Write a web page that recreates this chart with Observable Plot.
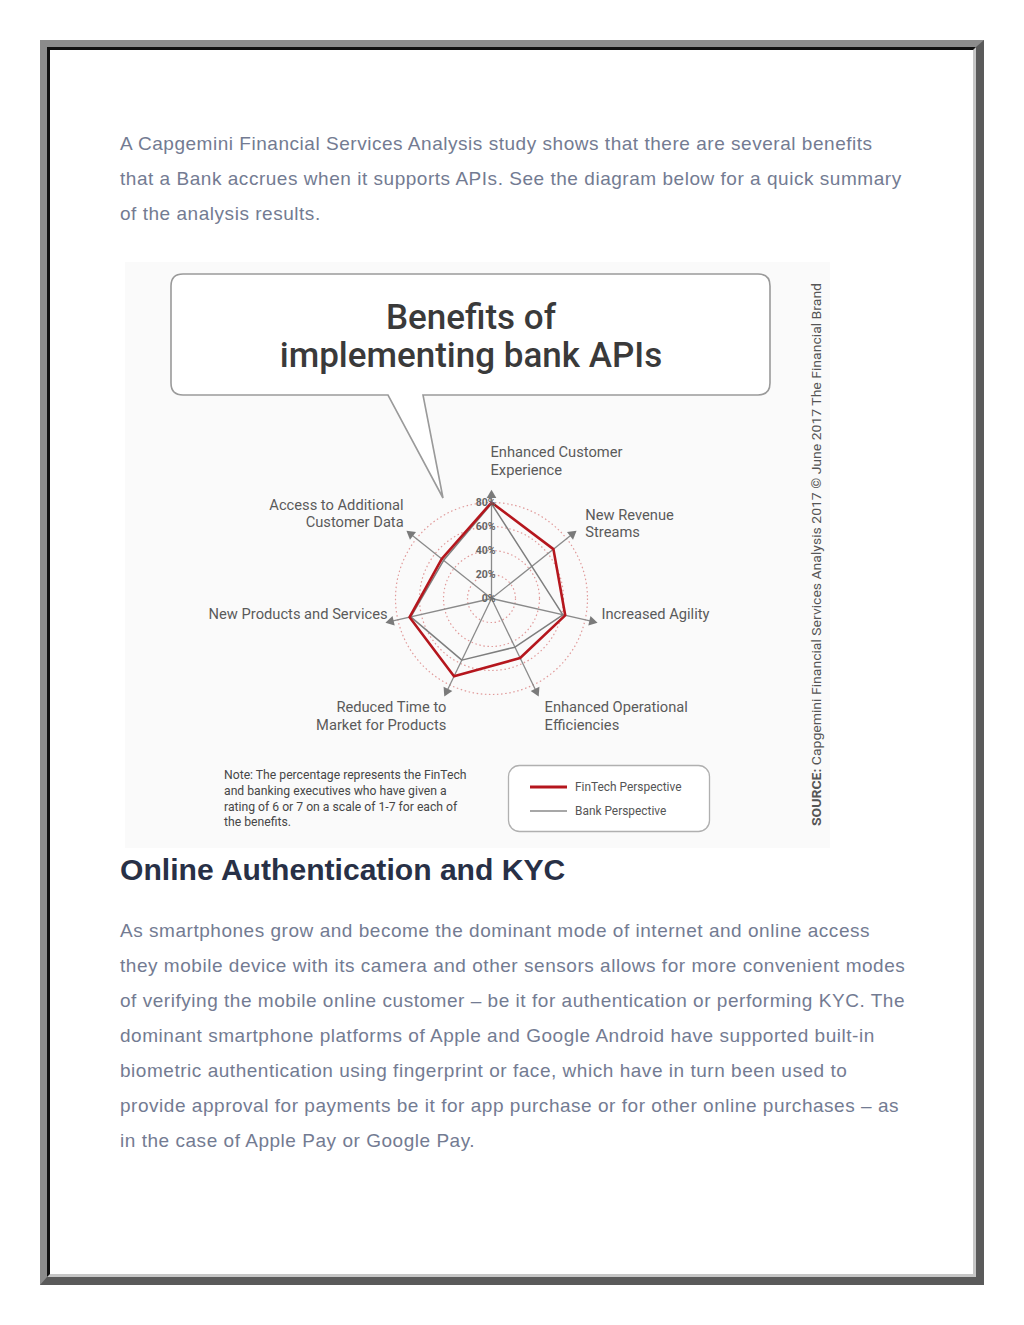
<!DOCTYPE html>
<html>
<head>
<meta charset="utf-8">
<script src="https://cdn.jsdelivr.net/npm/d3@7"></script>
<script src="https://cdn.jsdelivr.net/npm/@observablehq/plot@0.6"></script>
<style>
  html, body { margin: 0; padding: 0; background: #fff; }
  body { width: 1024px; height: 1325px; position: relative; overflow: hidden; }
  .frame { position: absolute; left: 40px; top: 40px; width: 944px; height: 1245px; box-sizing: border-box;
    border-style: solid; border-width: 7px 8px 8px 7px; border-color: #8c8c8c #5a5a5a #5a5a5a #8c8c8c; }
  .frame-inner { position: absolute; left: 0; top: 0; right: 0; bottom: 0;
    border-style: solid; border-width: 3px; border-color: #111 #c6c6c6 #c6c6c6 #111; }
  .p { position: absolute; left: 120px; font-family: "Liberation Sans", Arial, sans-serif; font-size: 19px;
    letter-spacing: 0.53px; line-height: 35px; color: #737b92; white-space: nowrap; margin: 0; }
  h2 { position: absolute; left: 120px; top: 850px; margin: 0; font-family: "Liberation Sans", Arial, sans-serif;
    font-weight: bold; font-size: 30.1px; line-height: 40px; color: #283046; white-space: nowrap; }
  .figbg { position: absolute; left: 125px; top: 262px; width: 705px; height: 586px; background: #fafafa; }
  #overlay { position: absolute; left: 0; top: 0; }
  #radar { position: absolute; left: 191px; top: 438px; }
</style>
</head>
<body>
<div class="frame"><div class="frame-inner"></div></div>
<p class="p" style="top:126px">A Capgemini Financial Services Analysis study shows that there are several benefits<br>that a Bank accrues when it supports APIs. See the diagram below for a quick summary<br>of the analysis results.</p>
<div class="figbg"></div>
<div id="radar"></div>
<svg id="overlay" width="1024" height="1325" style="pointer-events:none">
  <path d="M183,274 H758 Q770,274 770,286 V383 Q770,395 758,395 H423 L443,498 L388,395 H183 Q171,395 171,383 V286 Q171,274 183,274 Z"
        fill="#fff" stroke="#9a9a9a" stroke-width="1.6"/>
  <g font-family="Roboto, sans-serif" font-weight="500" font-size="35" fill="#3a3a3a" text-anchor="middle">
    <text x="471" y="329">Benefits of</text>
    <text x="471" y="367">implementing bank APIs</text>
  </g>
  <g font-family="Roboto, sans-serif" font-size="12.2" fill="#474747">
    <text x="224" y="779">Note: The percentage represents the FinTech</text>
    <text x="224" y="795">and banking executives who have given a</text>
    <text x="224" y="811">rating of 6 or 7 on a scale of 1-7 for each of</text>
    <text x="224" y="826">the benefits.</text>
  </g>
  <rect x="508.5" y="765.5" width="201" height="66" rx="11" fill="#fff" stroke="#b0b0b0" stroke-width="1.3"/>
  <line x1="530" x2="567" y1="787" y2="787" stroke="#b5161d" stroke-width="3"/>
  <line x1="530" x2="567" y1="811" y2="811" stroke="#8a8a8a" stroke-width="1.5"/>
  <g font-family="Roboto, sans-serif" font-size="11.9" fill="#555">
    <text x="575" y="791">FinTech Perspective</text>
    <text x="575" y="815">Bank Perspective</text>
  </g>
  <text transform="translate(821,826) rotate(-90)" font-family="Roboto, sans-serif" font-size="13.5" fill="#555"
        textLength="543" lengthAdjust="spacingAndGlyphs"><tspan font-weight="bold">SOURCE:</tspan> Capgemini Financial Services Analysis 2017 © June 2017 The Financial Brand</text>
</svg>
<h2>Online Authentication and KYC</h2>
<p class="p" style="top:913px">As smartphones grow and become the dominant mode of internet and online access<br>they mobile device with its camera and other sensors allows for more convenient modes<br>of verifying the mobile online customer – be it for authentication or performing KYC. The<br>dominant smartphone platforms of Apple and Google Android have supported built-in<br>biometric authentication using fingerprint or face, which have in turn been used to<br>provide approval for payments be it for app purchase or for other online purchases – as<br>in the case of Apple Pay or Google Pay.</p>
<script>
// ---- data ----
const categories = [
  "Enhanced Customer\nExperience",
  "New Revenue\nStreams",
  "Increased Agility",
  "Enhanced Operational\nEfficiencies",
  "Reduced Time to\nMarket for Products",
  "New Products and Services",
  "Access to Additional\nCustomer Data"
];
const fintech = [80, 66, 63, 55, 72, 70, 53];
const bank    = [79, 43, 61, 45, 57, 69, 51];
const ringValues = [20, 40, 60, 80];
const tickLabels = ["0%", "20%", "40%", "60%", "80%"];
const tickValues = [0, 20, 40, 60, 80];

// ---- layout (not data) ----
const N = categories.length;
const theta = i => (90 - i * 360 / N) * Math.PI / 180;
const SPOKE = 86;      // spoke length in value units
const LABEL_R = 100;   // label anchor radius in value units
const labelLayout = [
  {anchor: "start", dx: -1, dy: -18},
  {anchor: "start", dx: 0, dy: -1},
  {anchor: "start", dx: -7, dy: -12},
  {anchor: "start", dx: 1, dy: 9},
  {anchor: "end", dx: 7, dy: 9},
  {anchor: "end", dx: 13, dy: -12},
  {anchor: "end", dx: 6, dy: -11}
];

const toPts = vals => vals.map((v, i) => ({i, v, x: v * Math.cos(theta(i)), y: v * Math.sin(theta(i))}));
const idx = d3.range(N);

const labelMarks = idx.map(i => Plot.text([i], {
  x: j => LABEL_R * Math.cos(theta(j)),
  y: j => LABEL_R * Math.sin(theta(j)),
  text: j => categories[j],
  textAnchor: labelLayout[i].anchor,
  lineAnchor: "middle",
  lineHeight: 1.2,
  dx: labelLayout[i].dx,
  dy: labelLayout[i].dy,
  fontSize: 14.7,
  fill: "#5a5a5a"
}));

const chart = Plot.plot({
  width: 600,
  height: 320,
  margin: 0,
  x: {domain: [-250, 250], axis: null},
  y: {domain: [-133.333, 133.333], axis: null},
  r: {type: "linear", domain: [0, 80], range: [0, 96]},
  style: {background: "transparent", fontFamily: "Roboto, sans-serif", overflow: "visible"},
  marks: [
    Plot.dot(ringValues, {x: 0, y: 0, r: d => d, stroke: "#e09a9a", strokeWidth: 1.2, strokeDasharray: "1.5 2.6", fill: "none"}),
    Plot.link(idx, {x1: 0, y1: 0, x2: i => SPOKE * Math.cos(theta(i)), y2: i => SPOKE * Math.sin(theta(i)), stroke: "#8a8a8a", strokeWidth: 1.3}),
    Plot.dot(idx, {x: i => SPOKE * Math.cos(theta(i)), y: i => SPOKE * Math.sin(theta(i)), symbol: "triangle", r: 3.6, fill: "#7a7a7a", rotate: i => i * 360 / N}),
    Plot.line(toPts(bank), {x: "x", y: "y", curve: "linear-closed", stroke: "#7e7e7e", strokeWidth: 1.5}),
    Plot.line(toPts(fintech), {x: "x", y: "y", curve: "linear-closed", stroke: "#b5161d", strokeWidth: 2.6}),
    Plot.text(tickValues, {x: 0, y: d => d, text: (d, k) => tickLabels[k], textAnchor: "end", dx: 4, fontSize: 10.5, fontWeight: "bold", fill: "#666"}),
    ...labelMarks
  ]
});
document.getElementById("radar").appendChild(chart);
</script>
</body>
</html>
